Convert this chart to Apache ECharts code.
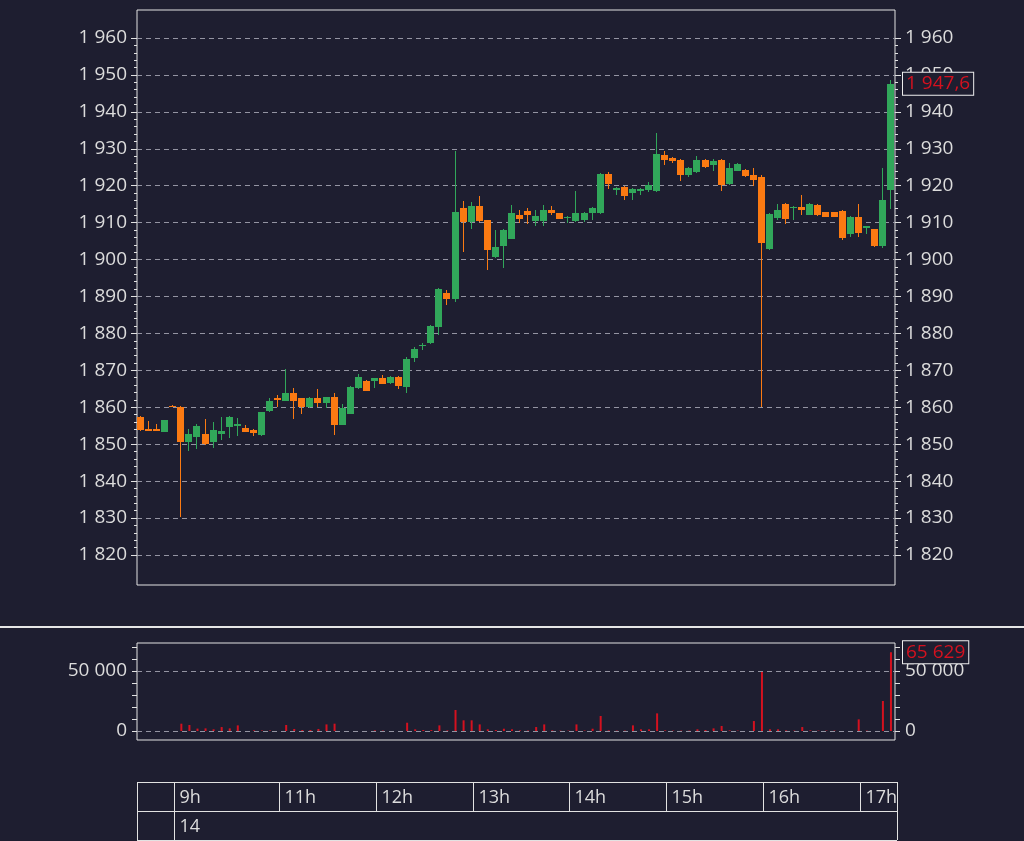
<!DOCTYPE html>
<html><head><meta charset="utf-8">
<script src="https://cdn.jsdelivr.net/npm/echarts@6/dist/echarts.min.js"></script>
<style>html,body{margin:0;padding:0;background:#1e1e30;}#c{width:1024px;height:841px;}</style>
</head><body><div id="c"></div>
<script>
const times = ['08:40','08:45','08:50','08:55',
'09:00','09:05','09:10','09:15','09:20','09:25','09:30','09:35','09:40','09:45','09:50','09:55',
'10:55',
'11:00','11:05','11:10','11:15','11:20','11:25','11:30','11:35','11:40','11:45','11:50','11:55',
'12:00','12:05','12:10','12:15','12:20','12:25','12:30','12:35','12:40','12:45','12:50','12:55',
'13:00','13:05','13:10','13:15','13:20','13:25','13:30','13:35','13:40','13:45','13:50','13:55',
'14:00','14:05','14:10','14:15','14:20','14:25','14:30','14:35','14:40','14:45','14:50','14:55',
'15:00','15:05','15:10','15:15','15:20','15:25','15:30','15:35','15:40','15:45','15:50','15:55',
'16:00','16:05','16:10','16:15','16:20','16:25','16:30','16:35','16:40','16:45','16:50','16:55',
'17:00','17:05','17:10','17:15','17:20'];

const opens = [1857.3,1854.2,1854.0,1853.4,1860.4,1860.2,1850.5,1852.0,1852.9,1850.5,
1852.9,1854.7,1855.0,1854.4,1853.9,1852.5,1858.9,1862.5,1861.8,1864.0,
1862.4,1860.0,1862.5,1861.1,1862.9,1855.3,1858.3,1865.2,1867.2,1867.0,
1867.8,1866.5,1868.3,1865.6,1873.3,1876.6,1877.3,1881.7,1891.0,1889.2,
1914.0,1910.1,1914.6,1910.6,1900.7,1903.6,1905.7,1912.0,1913.1,1910.4,
1910.4,1913.5,1912.6,1911.3,1910.4,1910.6,1912.6,1912.6,1923.2,1918.9,
1919.6,1917.9,1918.7,1918.8,1918.5,1928.4,1927.5,1926.9,1923.0,1923.6,
1926.9,1925.5,1926.9,1920.5,1924.1,1924.3,1922.8,1922.3,1902.9,1911.3,
1915.1,1914.0,1914.2,1912.2,1914.7,1912.9,1912.9,1913.1,1907.0,1911.5,
1908.6,1908.3,1903.6,1918.9];
const closes = [1853.8,1853.6,1853.6,1856.5,1860.2,1850.5,1852.7,1855.0,1850.1,1853.9,
1853.6,1857.4,1855.6,1853.4,1853.0,1858.6,1861.8,1862.0,1864.0,1861.8,
1860.0,1862.5,1861.1,1862.7,1855.3,1859.8,1865.5,1868.2,1864.5,1867.8,
1866.4,1868.3,1865.7,1873.2,1875.9,1876.9,1882.0,1892.1,1889.2,1912.8,
1910.1,1914.5,1910.4,1902.7,1903.5,1908.0,1912.7,1911.1,1912.0,1911.9,
1913.4,1912.5,1911.1,1911.6,1912.6,1912.6,1914.0,1923.2,1920.5,1919.4,
1917.1,1919.1,1919.2,1920.3,1928.6,1926.9,1926.6,1922.8,1924.8,1926.9,
1925.0,1926.8,1920.1,1924.8,1925.9,1922.5,1921.5,1904.5,1912.4,1913.4,
1911.1,1914.3,1913.5,1915.1,1912.2,1911.5,1911.5,1905.9,1911.5,1907.2,
1909.0,1903.6,1916.1,1947.6];
const lows = [1853.7,1853.5,1853.5,1853.3,1860.1,1830.3,1848.2,1848.7,1849.8,1849.0,
1851.2,1851.7,1852.1,1853.3,1852.1,1852.2,1858.7,1860.0,1861.6,1856.8,
1858.2,1859.8,1860.0,1859.8,1852.6,1855.1,1858.1,1865.0,1864.3,1865.2,
1866.2,1866.3,1864.9,1863.9,1872.3,1875.5,1877.1,1879.6,1887.6,1888.6,
1902.0,1908.4,1910.2,1897.1,1900.5,1897.8,1905.5,1910.0,1909.5,1909.0,
1909.2,1912.0,1911.0,1910.0,1910.2,1910.2,1910.8,1912.4,1919.2,1917.6,
1916.2,1916.0,1917.4,1918.3,1918.3,1925.7,1926.1,1921.4,1922.3,1923.4,
1924.8,1923.9,1918.5,1920.3,1923.9,1922.3,1919.9,1860.0,1902.7,1910.6,
1909.5,1910.6,1912.2,1912.0,1911.7,1911.4,1911.4,1905.3,1906.1,1906.1,
1907.0,1903.4,1903.0,1913.8];
const highs = [1857.6,1856.3,1855.4,1856.6,1860.6,1860.3,1854.0,1855.4,1856.8,1855.9,
1857.5,1857.6,1857.1,1855.3,1854.1,1858.8,1862.4,1863.2,1870.5,1865.1,
1862.6,1862.8,1864.9,1862.9,1863.8,1860.9,1865.8,1869.0,1867.5,1868.0,
1868.8,1868.5,1868.5,1873.5,1876.2,1877.5,1882.2,1892.3,1891.7,1929.3,
1915.8,1915.6,1917.2,1910.8,1907.9,1908.2,1914.7,1913.5,1914.0,1913.5,
1914.7,1914.4,1912.7,1911.7,1918.5,1912.8,1914.2,1923.4,1923.7,1919.6,
1919.8,1919.3,1919.4,1921.0,1934.2,1929.3,1927.7,1927.1,1925.0,1928.1,
1927.2,1927.2,1927.1,1926.1,1926.1,1924.5,1924.8,1923.0,1912.6,1915.1,
1915.3,1914.4,1917.6,1915.3,1915.1,1913.0,1913.0,1913.3,1911.7,1915.1,
1909.1,1908.4,1924.8,1948.7];
const volumes = [0,0,0,0,0,6100,5000,2000,2200,1400,
3300,2200,4700,0,500,400,400,0,5000,1700,
800,800,1700,5500,6100,0,0,0,0,500,
300,0,0,6900,1400,800,800,4700,500,17500,
8900,8900,5500,1400,800,1900,1400,500,400,3300,
5500,500,300,300,5500,400,1900,12500,500,300,
300,4700,1400,1400,14700,500,300,300,300,1400,
800,2200,4200,500,300,0,8300,49200,1400,1400,
500,300,3300,500,300,300,300,0,0,9700,
300,0,25000,65629];

const priceMin = 1820, priceMax = 1960, priceStep = 10;
const volMin = 0, volMax = 70000, volStep = 10000, volLabelled = [0, 50000];
const hourLabels = ['9h','11h','12h','13h','14h','15h','16h','17h'];
const hourStarts = ['09:00','11:00','12:00','13:00','14:00','15:00','16:00','17:00'];
const dayLabels = ['14'];
const dayStarts = ['09:00'];

function fr(v, d) {
  const s = Math.abs(v).toFixed(d);
  const parts = s.split('.');
  const ip = parts[0].replace(/\B(?=(\d{3})+(?!\d))/g, ' ');
  return (v < 0 ? '-' : '') + (parts[1] ? ip + ',' + parts[1] : ip);
}

const candleRows = times.map((t, i) => [t, opens[i], closes[i], lows[i], highs[i]]);
const lastClose = closes[closes.length - 1];
const lastVol = volumes[volumes.length - 1];

const BG = '#1e1e30', FONT = 'Open Sans', TXT = '#dcdcdc', LINE = '#e2e2e2', GRIDC = '#9494a2';
const GREEN = '#31a75a', ORANGE = '#fb7a12', RED = '#d4111f';
const L = 137, W = 758;
const FS = 19;

const chart = echarts.init(document.getElementById('c'), null, {renderer: 'canvas'});
const tagLabel = (txt) => ({
  show: true, position: 'end', distance: 8, formatter: txt, color: RED, opacity: 1,
  fontFamily: FONT, fontSize: FS, backgroundColor: BG, borderColor: '#eeeeee',
  borderWidth: 1, padding: [2, 3, 1, 3]
});
const priceAxis = (pos) => ({
  gridIndex: 1, type: 'value', position: pos, min: priceMin, max: priceMax, interval: priceStep,
  axisLine: {show: false},
  axisTick: {show: true, length: 6, lineStyle: {color: LINE}},
  minorTick: {show: true, splitNumber: 5, length: 3, lineStyle: {color: LINE}},
  axisLabel: {margin: 10, color: TXT, fontFamily: FONT, fontSize: FS, formatter: v => fr(v, 0)},
  splitLine: {show: pos === 'left', lineStyle: {color: GRIDC, type: [5, 4], width: 1}}
});
const volAxis = (pos) => ({
  gridIndex: 3, type: 'value', position: pos, min: volMin, max: volMax, interval: volStep,
  axisLine: {show: false},
  axisTick: {show: true, length: 5, lineStyle: {color: LINE}},
  axisLabel: {margin: 10, color: TXT, fontFamily: FONT, fontSize: FS,
    formatter: v => volLabelled.indexOf(v) >= 0 ? fr(v, 0) : ''},
  splitLine: {show: pos === 'left', lineStyle: {color: [GRIDC, 'rgba(0,0,0,0)', 'rgba(0,0,0,0)', 'rgba(0,0,0,0)', 'rgba(0,0,0,0)'], type: [5, 4], width: 1}}
});
const hiddenLine = {color: 'rgba(0,0,0,0)', width: 0};

function renderCandle(params, api) {
  const x = api.value(0), o = api.value(1), c = api.value(2), lo = api.value(3), hi = api.value(4);
  const col = c > o ? GREEN : ORANGE;
  const pO = api.coord([x, o]), pC = api.coord([x, c]);
  const pL = api.coord([x, lo]), pH = api.coord([x, hi]);
  const cx = Math.round(pO[0]);
  const top = Math.round(Math.min(pO[1], pC[1]));
  const bot = Math.max(top + 1, Math.round(Math.max(pO[1], pC[1])));
  const wt = Math.round(pH[1]), wb = Math.round(pL[1]);
  const half = 3;
  return {
    type: 'group',
    children: [
      {type: 'rect', shape: {x: cx - 1, y: wt, width: 1, height: Math.max(1, wb - wt)}, style: {fill: col}},
      {type: 'rect', shape: {x: cx - 1 - half, y: top, width: 2 * half + 1, height: bot - top}, style: {fill: col}}
    ]
  };
}

chart.setOption({
  backgroundColor: BG,
  animation: false,
  grid: [
    {left: L, top: 10, width: W, height: 575, show: true, borderColor: LINE, borderWidth: 1, backgroundColor: 'transparent'},
    {left: L, top: 38, width: W, height: 517},
    {left: L, top: 643, width: W, height: 97, show: true, borderColor: LINE, borderWidth: 1, backgroundColor: 'transparent'},
    {left: L, top: 647, width: W, height: 84}
  ],
  xAxis: [
    {gridIndex: 0, type: 'value', show: false},
    {gridIndex: 1, type: 'category', data: times, show: false, boundaryGap: true},
    {gridIndex: 2, type: 'value', show: false},
    {gridIndex: 3, type: 'category', data: times, show: false, boundaryGap: true}
  ],
  yAxis: [
    {gridIndex: 0, type: 'value', show: false},
    priceAxis('left'),
    priceAxis('right'),
    {gridIndex: 2, type: 'value', show: false},
    volAxis('left'),
    volAxis('right')
  ],
  series: [
    {
      type: 'custom', xAxisIndex: 1, yAxisIndex: 1, data: candleRows, clip: false,
      encode: {x: 0, y: [1, 2, 3, 4]},
      renderItem: renderCandle,
      markLine: {silent: true, symbol: ['none', 'none'], lineStyle: hiddenLine,
        data: [{yAxis: lastClose}], label: tagLabel(fr(lastClose, 1))}
    },
    {
      type: 'bar', xAxisIndex: 3, yAxisIndex: 4, data: volumes, barWidth: 2, clip: false,
      itemStyle: {color: RED},
      markLine: {silent: true, symbol: ['none', 'none'], lineStyle: hiddenLine,
        data: [{yAxis: lastVol}], label: tagLabel(fr(lastVol, 0))}
    }
  ]
});

// Time table under the chart, positioned from the category axis
const T1 = 782, T2 = 811, T3 = 840, TR = 897;
const g = [];
const ln = (x1, y1, x2, y2, w, c) => g.push({type: 'line', silent: true,
  shape: {x1, y1, x2, y2}, style: {stroke: c || LINE, lineWidth: w || 1}});
const tx = (x, y, t) => g.push({type: 'text', silent: true, x, y,
  style: {text: t, fill: TXT, font: '18px "Open Sans"', verticalAlign: 'middle'}});
const colX = (t) => chart.convertToPixel({xAxisIndex: 1}, t) + 2;
ln(0, 627, 1024, 627, 2, '#e6e6e6');
ln(L, T1 + 0.5, TR, T1 + 0.5);
ln(L, T2 + 0.5, TR, T2 + 0.5);
ln(L, T3 + 0.5, TR, T3 + 0.5);
ln(L + 0.5, T1, L + 0.5, T3);
ln(TR + 0.5, T1, TR + 0.5, T3);
hourStarts.forEach((t, i) => {
  const x = Math.round(colX(t)) - 0.5;
  ln(x, T1, x, T2);
  tx(x + 5, (T1 + T2) / 2 + 1, hourLabels[i]);
});
dayStarts.forEach((t, i) => {
  const x = Math.round(colX(t)) - 0.5;
  ln(x, T2, x, T3);
  tx(x + 5, (T2 + T3) / 2 + 1, dayLabels[i]);
});
chart.setOption({graphic: g});
</script>
</body></html>
